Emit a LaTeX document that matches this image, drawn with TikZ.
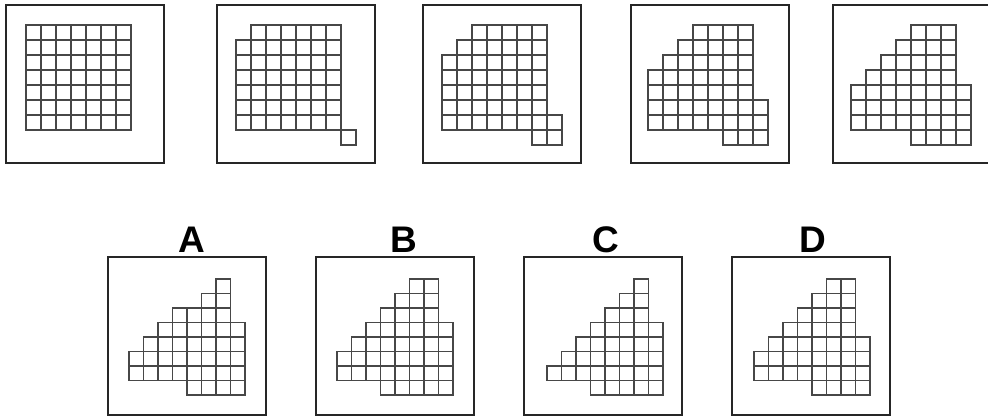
\documentclass[tikz,border=0pt]{standalone}
\usepackage{fontspec}
\setmainfont{Liberation Sans}
\tikzset{
  frame/.style={draw=black!85, line width=2pt, minimum width=158pt, minimum height=158pt, inner sep=0pt},
  gridline/.style={draw=black!72, line width=1.6pt},
  optlabel/.style={font=\fontsize{37}{37}\selectfont\bfseries, inner sep=0pt}
}
\newcommand\gridpanel[4]{%
  \begin{scope}[shift={(#1,#2)}]
    \foreach \r/\a/\b in {#4} {
      \foreach \c in {\a,...,\b} {
        \draw[gridline] (\c*#3,\r*#3) rectangle ++(#3,#3);
      }
    }
  \end{scope}}
\begin{document}
\begin{tikzpicture}[x=1pt,y=-1pt]
\useasboundingbox (0,0) rectangle (988,416);
% top row frames
\node[frame] (p1) at (85,84) {};
\node[frame] (p2) at (296,84) {};
\node[frame] (p3) at (502,84) {};
\node[frame] (p4) at (710,84) {};
\node[frame] (p5) at (912,84) {};
% top row grids
\gridpanel{26}{25}{15}{0/0/6,1/0/6,2/0/6,3/0/6,4/0/6,5/0/6,6/0/6}
\gridpanel{236}{25}{15}{0/1/6,1/0/6,2/0/6,3/0/6,4/0/6,5/0/6,6/0/6,7/7/7}
\gridpanel{442}{25}{15}{0/2/6,1/1/6,2/0/6,3/0/6,4/0/6,5/0/6,6/0/7,7/6/7}
\gridpanel{648}{25}{15}{0/3/6,1/2/6,2/1/6,3/0/6,4/0/6,5/0/7,6/0/7,7/5/7}
\gridpanel{851}{25}{15}{0/4/6,1/3/6,2/2/6,3/1/6,4/0/7,5/0/7,6/0/7,7/4/7}
% bottom row frames
\node[frame] (qa) at (187,336) {};
\node[frame] (qb) at (395,336) {};
\node[frame] (qc) at (603,336) {};
\node[frame] (qd) at (811,336) {};
% labels
\node[optlabel, anchor=base] (la) at (191.5,252.5) {A};
\node[optlabel, anchor=base] (lb) at (404,252.5) {B};
\node[optlabel, anchor=base] (lc) at (606,252.5) {C};
\node[optlabel, anchor=base] (ld) at (813,252.5) {D};
% bottom row grids
\gridpanel{129}{279}{14.5}{0/6/6,1/5/6,2/3/6,3/2/7,4/1/7,5/0/7,6/0/7,7/4/7}
\gridpanel{337}{279}{14.5}{0/5/6,1/4/6,2/3/6,3/2/7,4/1/7,5/0/7,6/0/7,7/3/7}
\gridpanel{547}{279}{14.5}{0/6/6,1/5/6,2/4/6,3/3/7,4/2/7,5/1/7,6/0/7,7/3/7}
\gridpanel{754}{279}{14.5}{0/5/6,1/4/6,2/3/6,3/2/6,4/1/7,5/0/7,6/0/7,7/4/7}
\end{tikzpicture}
\end{document}
